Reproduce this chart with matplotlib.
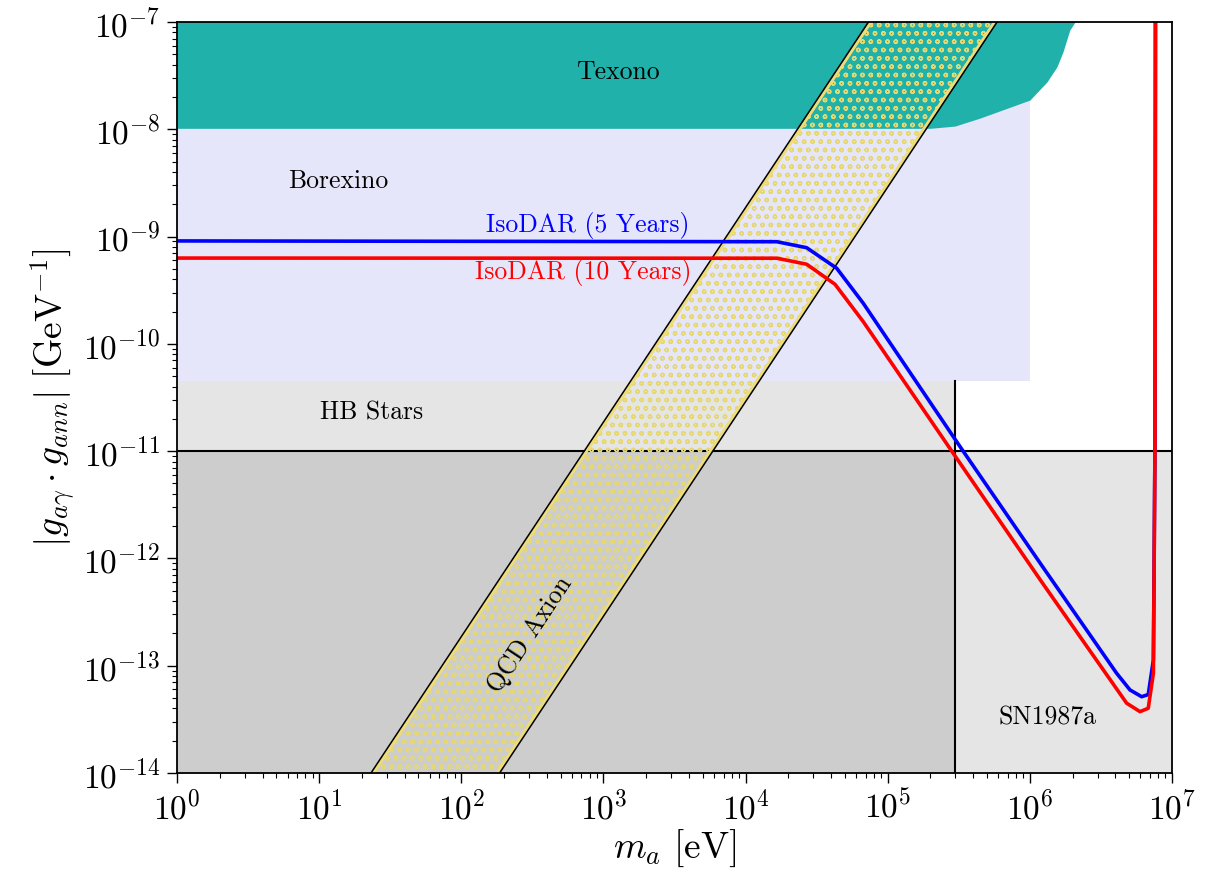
import matplotlib
matplotlib.use("Agg")
import matplotlib.pyplot as plt
import numpy as np
from matplotlib.patches import Polygon
from matplotlib.ticker import LogLocator, NullFormatter

plt.rcParams["font.family"] = "serif"
plt.rcParams["font.serif"] = ["cmr10"]
plt.rcParams["mathtext.fontset"] = "cm"
plt.rcParams["axes.formatter.use_mathtext"] = True

# --- data ------------------------------------------------------------- #
# IsoDAR sensitivity curves: m_a [eV], |g_ag * g_ann| [GeV^-1]
ISO5_M = [1, 1.66e4, 2.69e4, 4.38e4, 6.73e4, 3.23e5, 1.22e6, 4.08e6, 5.07e6,
          6.12e6, 6.81e6, 7.40e6, 7.60e6, 7.66e6]
ISO5_G = [9.1e-10, 8.95e-10, 7.87e-10, 5.06e-10, 2.39e-10, 1.10e-11, 8.5e-13,
          8.5e-14, 5.94e-14, 5.14e-14, 5.38e-14, 1.13e-13, 1.26e-11, 3e-7]
ISO10_M = [1, 1.66e4, 2.69e4, 4.26e4, 6.73e4, 2.89e5, 1.22e6, 4.80e6, 5.96e6,
           6.81e6, 7.40e6, 7.60e6, 7.66e6]
ISO10_G = [6.3e-10, 6.28e-10, 5.52e-10, 3.59e-10, 1.61e-10, 9.55e-12, 5.96e-13,
           4.47e-14, 3.73e-14, 4.01e-14, 8.5e-14, 1.26e-11, 3e-7]

# Texono lower boundary
TEXONO_M = [1, 1.99e5, 2.97e5, 4.46e5, 1.0e6, 1.32e6, 1.55e6, 1.71e6, 1.91e6, 2.08e6]
TEXONO_G = [1.02e-8, 1.02e-8, 1.07e-8, 1.27e-8, 1.87e-8, 2.76e-8, 3.81e-8,
            5.25e-8, 8.4e-8, 1.0e-7]

BOREXINO_MMAX, BOREXINO_GMIN = 1e6, 4.5e-11
HB_MMAX, HB_GMAX = 3e5, 4.5e-11
SN_GMAX = 1e-11

# QCD axion band: g = C * m^2, log10(C) for the two edges
QCD_LOGC = [-16.73, -18.54]

XMIN, XMAX, YMIN, YMAX = 1, 1e7, 1e-14, 1e-7

fig = plt.figure(figsize=(12.18, 8.75), dpi=100)
ax = fig.add_axes([0.1453, 0.1166, 0.8169, 0.8583])
ax.set_xscale("log"); ax.set_yscale("log")

# --- excluded regions ------------------------------------------------- #
ax.fill_between([XMIN, BOREXINO_MMAX], BOREXINO_GMIN, YMAX, color="#e6e6fa", lw=0, zorder=1)
ax.fill_between(TEXONO_M, TEXONO_G, 1e-6, color="#20b2aa", lw=0, zorder=2)
ax.fill_between([XMIN, HB_MMAX], 1e-15, HB_GMAX, color="k", alpha=0.1, lw=0, zorder=1)
ax.fill_between([XMIN, XMAX], 1e-15, SN_GMAX, color="k", alpha=0.1, lw=0, zorder=1)
ax.plot([XMIN, XMAX], [SN_GMAX, SN_GMAX], color="k", lw=1.5, zorder=3)
ax.plot([HB_MMAX, HB_MMAX], [1e-15, HB_GMAX], color="k", lw=1.5, zorder=3)

# --- QCD axion band --------------------------------------------------- #
gy = np.array([1e-16, 1e-6])
cl, cr = 10 ** QCD_LOGC[0], 10 ** QCD_LOGC[1]
inset = 10 ** 0.035
xl = np.sqrt(gy / (cl / inset)); xr = np.sqrt(gy / (cr * inset))
band = Polygon(np.column_stack([np.r_[xl, xr[::-1]], np.r_[gy, gy[::-1]]]),
               closed=True, facecolor="none", edgecolor="#e6d870", hatch="oo",
               lw=0, zorder=4)
ax.add_patch(band)
ax.plot(xl, gy, color="#eedc78", lw=2.2, zorder=5)
ax.plot(xr, gy, color="#eedc78", lw=2.2, zorder=5)
ax.plot(np.sqrt(gy / cl), gy, color="k", lw=1.1, zorder=5)
ax.plot(np.sqrt(gy / cr), gy, color="k", lw=1.1, zorder=5)

# --- IsoDAR curves ---------------------------------------------------- #
ax.plot(ISO5_M, ISO5_G, color="blue", lw=2.6, zorder=6)
ax.plot(ISO10_M, ISO10_G, color="red", lw=2.6, zorder=7)

# --- labels ----------------------------------------------------------- #
fs = 18.5
ax.text(1.27e3, 3.42e-8, "Texono", fontsize=fs, ha="center", va="center", zorder=8)
ax.text(13.6, 3.3e-9, "Borexino", fontsize=fs, ha="center", va="center", zorder=8)
ax.text(780, 1.26e-9, "IsoDAR (5 Years)", fontsize=fs, color="blue",
        ha="center", va="center", zorder=8)
ax.text(718, 4.58e-10, "IsoDAR (10 Years)", fontsize=fs, color="red",
        ha="center", va="center", zorder=8)
ax.text(23.2, 2.27e-11, "HB Stars", fontsize=fs, ha="center", va="center", zorder=8)
ax.text(1.34e6, 3.26e-14, "SN1987a", fontsize=fs, ha="center", va="center", zorder=8)
ax.text(304, 1.94e-13, "QCD Axion", fontsize=fs, rotation=56.5,
        ha="center", va="center", rotation_mode="anchor", zorder=8)

ax.set_xlim(XMIN, XMAX); ax.set_ylim(YMIN, YMAX)
ax.set_xlabel(r"$m_a\ [\mathrm{eV}]$", fontsize=27, labelpad=2)
ax.set_ylabel(r"$|g_{a\gamma}\cdot g_{ann}|\ [\mathrm{GeV}^{-1}]$", fontsize=27, labelpad=4)

for axis in (ax.xaxis, ax.yaxis):
    axis.set_major_locator(LogLocator(base=10, numticks=20))
    axis.set_minor_locator(LogLocator(base=10, subs=np.arange(2, 10), numticks=100))
    axis.set_minor_formatter(NullFormatter())
ax.tick_params(which="major", length=7, width=1.0, labelsize=24, pad=5)
ax.tick_params(which="minor", length=3.5, width=0.8)
for s in ax.spines.values():
    s.set_linewidth(1.3)
    s.set_zorder(10)

fig.savefig("out.png", dpi=100)
